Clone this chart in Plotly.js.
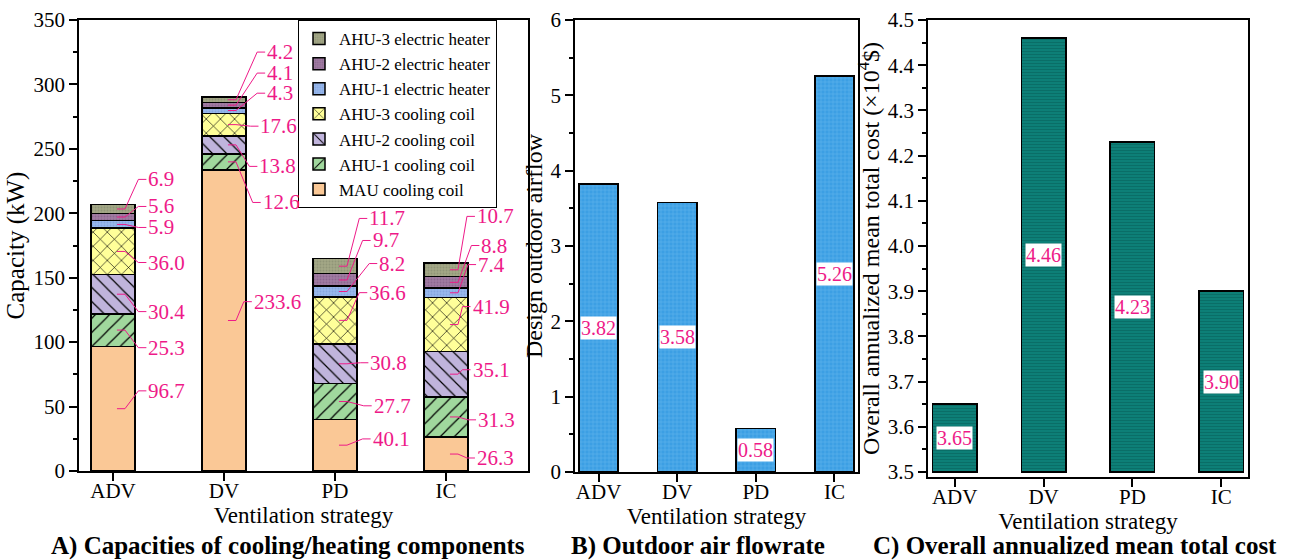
<!DOCTYPE html>
<html>
<head>
<meta charset="utf-8">
<script src="https://cdn.plot.ly/plotly-3.0.1.min.js"></script>
<style>html,body{margin:0;padding:0;background:#fff;}#chart{width:1293px;height:560px;}</style>
</head>
<body>
<div id="chart"></div>
<script>
// ---------- DATA ----------
const categories = ['ADV', 'DV', 'PD', 'IC'];
const componentNames = ['MAU cooling coil', 'AHU-1 cooling coil', 'AHU-2 cooling coil', 'AHU-3 cooling coil',
  'AHU-1 electric heater', 'AHU-2 electric heater', 'AHU-3 electric heater'];
const mauCoolingCoil = [96.7, 233.6, 40.1, 26.3];
const ahu1CoolingCoil = [25.3, 12.6, 27.7, 31.3];
const ahu2CoolingCoil = [30.4, 13.8, 30.8, 35.1];
const ahu3CoolingCoil = [36.0, 17.6, 36.6, 41.9];
const ahu1ElectricHeater = [5.9, 4.3, 8.2, 7.4];
const ahu2ElectricHeater = [5.6, 4.1, 9.7, 8.8];
const ahu3ElectricHeater = [6.9, 4.2, 11.7, 10.7];
const outdoorAirflow = [3.82, 3.58, 0.58, 5.26];
const annualizedCost = [3.65, 4.46, 4.23, 3.90];

// ---------- STYLE ----------
const FONT = 'Liberation Serif, Times New Roman, serif';
const PINK = '#EE1A88';
const W = 1293, H = 560;
const px = v => v / W, py = v => 1 - v / H;

const compSeries = [mauCoolingCoil, ahu1CoolingCoil, ahu2CoolingCoil, ahu3CoolingCoil,
  ahu1ElectricHeater, ahu2ElectricHeater, ahu3ElectricHeater];
const compStyle = [
  {color: '#FAC896', pattern: {shape: ''}},
  {color: '#A0D89D', pattern: {shape: '/', fgcolor: '#000', size: 10, solidity: 0.12}},
  {color: '#C0B4DC', pattern: {shape: '\\', fgcolor: '#000', size: 10, solidity: 0.12}},
  {color: '#FFFF99', pattern: {shape: 'x', fgcolor: '#000', size: 10, solidity: 0.12}},
  {color: '#98B8EC', pattern: {shape: '.', fgcolor: '#86A6DE', size: 3, solidity: 0.3}},
  {color: '#A07BA2', pattern: {shape: '.', fgcolor: '#8C6890', size: 3, solidity: 0.3}},
  {color: '#A3A786', pattern: {shape: '.', fgcolor: '#909577', size: 3, solidity: 0.3}}
];

// label placement (layout only): horizontal offset of label from bar centre (category units) and label height (kW)
const labelDx = [
  [0.31, 0.31, 0.31, 0.31, 0.31, 0.31, 0.31],
  [0.26, 0.34, 0.31, 0.32, 0.38, 0.38, 0.38],
  [0.33, 0.34, 0.31, 0.30, 0.39, 0.33, 0.30],
  [0.27, 0.28, 0.23, 0.23, 0.28, 0.31, 0.27]
];
const labelY = [
  [62.2, 95.7, 123.7, 161.8, 189, 205.3, 226.3],
  [131.4, 208.4, 236.4, 267.6, 293.2, 308.8, 325.1],
  [24.9, 50.6, 84, 138.4, 161, 178.9, 196],
  [10.1, 39.7, 78.6, 127.6, 160.2, 175, 197.6]
];
const PXU = 1 / 111; // one pixel in category units on panel A

const traces = [];
compSeries.forEach((vals, k) => {
  const st = compStyle[k];
  const pat = Object.assign({fillmode: 'replace', bgcolor: st.color}, st.pattern);
  traces.push({
    type: 'bar', x: categories, y: vals, name: componentNames[k],
    xaxis: 'x', yaxis: 'y', width: 0.4,
    marker: {color: st.color, line: {color: '#000', width: 1.5}, pattern: pat},
    hoverinfo: 'name+y', showlegend: true
  });
});

traces.push({
  type: 'bar', x: categories, y: outdoorAirflow, xaxis: 'x2', yaxis: 'y2', width: 0.5,
  marker: {color: '#3C9FE4', line: {color: '#000', width: 1.5},
    pattern: {shape: '+', fgcolor: '#62B3EC', bgcolor: '#3C9FE4', size: 4, solidity: 0.25, fillmode: 'replace'}},
  showlegend: false, name: 'Design outdoor airflow'
});

const costBase = 3.5;
traces.push({
  type: 'bar', x: categories, y: annualizedCost.map(v => v - costBase), base: costBase,
  xaxis: 'x3', yaxis: 'y3', width: 0.5,
  marker: {color: '#0C7C74', line: {color: '#000', width: 1.5},
    pattern: {shape: '-', fgcolor: '#0A6C65', bgcolor: '#0D7F77', size: 3, solidity: 0.3, fillmode: 'replace'}},
  showlegend: false, name: 'Overall annualized mean total cost'
});

const annotations = [];
const shapes = [];
categories.forEach((c, i) => {
  let cum = 0;
  compSeries.forEach((vals, k) => {
    const v = vals[i];
    const ym = cum + v / 2;
    const lx = i + labelDx[i][k];
    const ly = labelY[i][k];
    shapes.push({
      type: 'path', xref: 'x', yref: 'y', layer: 'above',
      path: 'M' + (i + 4 * PXU) + ',' + ym + ' L' + (i + 12 * PXU) + ',' + ym +
            ' L' + (lx - 9 * PXU) + ',' + ly + ' L' + (lx - 1 * PXU) + ',' + ly,
      line: {color: PINK, width: 1}
    });
    annotations.push({
      xref: 'x', yref: 'y', x: lx, y: ly,
      text: v.toFixed(1), showarrow: false, xanchor: 'left', yanchor: 'middle', borderpad: 0,
      font: {family: FONT, size: 21, color: PINK}
    });
    cum += v;
  });
  annotations.push({
    xref: 'x2', yref: 'y2', x: i, y: outdoorAirflow[i] / 2, text: outdoorAirflow[i].toFixed(2),
    showarrow: false, bgcolor: '#fff', borderpad: 0, font: {family: FONT, size: 20, color: PINK}
  });
  annotations.push({
    xref: 'x3', yref: 'y3', x: i, y: (costBase + annualizedCost[i]) / 2, text: annualizedCost[i].toFixed(2),
    showarrow: false, bgcolor: '#fff', borderpad: 0, font: {family: FONT, size: 20, color: PINK}
  });
});

const panelTitles = [
  {text: 'A) Capacities of cooling/heating components', x: 288},
  {text: 'B) Outdoor air flowrate', x: 698},
  {text: 'C) Overall annualized mean total cost', x: 1075}
];
panelTitles.forEach(t => annotations.push({
  xref: 'paper', yref: 'paper', x: px(t.x), y: py(546), text: '<b>' + t.text + '</b>',
  showarrow: false, xanchor: 'center', yanchor: 'middle', font: {family: FONT, size: 25, color: '#000'}
}));

const baseX = {
  type: 'category', showline: true, mirror: true, linecolor: '#000', linewidth: 1.5,
  ticks: 'outside', ticklen: 8, tickwidth: 1.5, tickcolor: '#000', showgrid: false, zeroline: false,
  tickfont: {family: FONT, size: 21, color: '#000'}, ticklabelstandoff: -8, fixedrange: true
};
const baseY = {
  showline: true, mirror: true, linecolor: '#000', linewidth: 1.5,
  ticks: 'outside', ticklen: 8, tickwidth: 1.5, tickcolor: '#000', showgrid: false, zeroline: false,
  tickfont: {family: FONT, size: 21, color: '#000'}, fixedrange: true
};
const xTitle = {text: 'Ventilation strategy', font: {family: FONT, size: 23, color: '#000'}, standoff: 0};

const layout = {
  width: W, height: H, margin: {l: 0, r: 0, t: 0, b: 0},
  paper_bgcolor: '#fff', plot_bgcolor: '#fff', barmode: 'stack', bargap: 0.5,
  font: {family: FONT, color: '#000'},
  xaxis: Object.assign({}, baseX, {domain: [px(79), px(528)], range: [-0.306, 3.739], anchor: 'y', title: xTitle}),
  yaxis: Object.assign({}, baseY, {domain: [py(471), py(20)], range: [0, 350], dtick: 50, anchor: 'x',
    minor: {dtick: 25, ticks: 'outside', ticklen: 4, tickwidth: 1.5, tickcolor: '#000'},
    title: {text: 'Capacity (kW)', font: {family: FONT, size: 25, color: '#000'}, standoff: 2}}),
  xaxis2: Object.assign({}, baseX, {domain: [px(575), px(858)], range: [-0.3, 3.3], anchor: 'y2', title: xTitle}),
  yaxis2: Object.assign({}, baseY, {domain: [py(472), py(20)], range: [0, 6], dtick: 1, anchor: 'x2',
    minor: {dtick: 0.5, ticks: 'outside', ticklen: 4, tickwidth: 1.5, tickcolor: '#000'},
    title: {text: 'Design outdoor airflow', font: {family: FONT, size: 24, color: '#000'}, standoff: 1}}),
  xaxis3: Object.assign({}, baseX, {domain: [px(928), px(1248)], range: [-0.3, 3.3], anchor: 'y3', title: xTitle}),
  yaxis3: Object.assign({}, baseY, {domain: [py(477), py(20)], range: [3.5 - 5 / 452, 4.5], dtick: 0.1,
    tick0: 3.5, tickformat: '.1f', anchor: 'x3',
    minor: {dtick: 0.05, ticks: 'outside', ticklen: 4, tickwidth: 1.5, tickcolor: '#000'},
    title: {text: 'Overall annualized mean total cost (×10<sup>4</sup>$)', font: {family: FONT, size: 24, color: '#000'}, standoff: 1}}),
  legend: {x: px(298), y: py(20), xanchor: 'left', yanchor: 'top', traceorder: 'reversed',
    bgcolor: '#fff', bordercolor: '#000', borderwidth: 1, font: {family: FONT, size: 17, color: '#000'},
    itemwidth: 30, tracegroupgap: 0},
  annotations: annotations,
  shapes: shapes,
  showlegend: true
};

Plotly.newPlot('chart', traces, layout, {displayModeBar: false, responsive: false});
</script>
</body>
</html>
